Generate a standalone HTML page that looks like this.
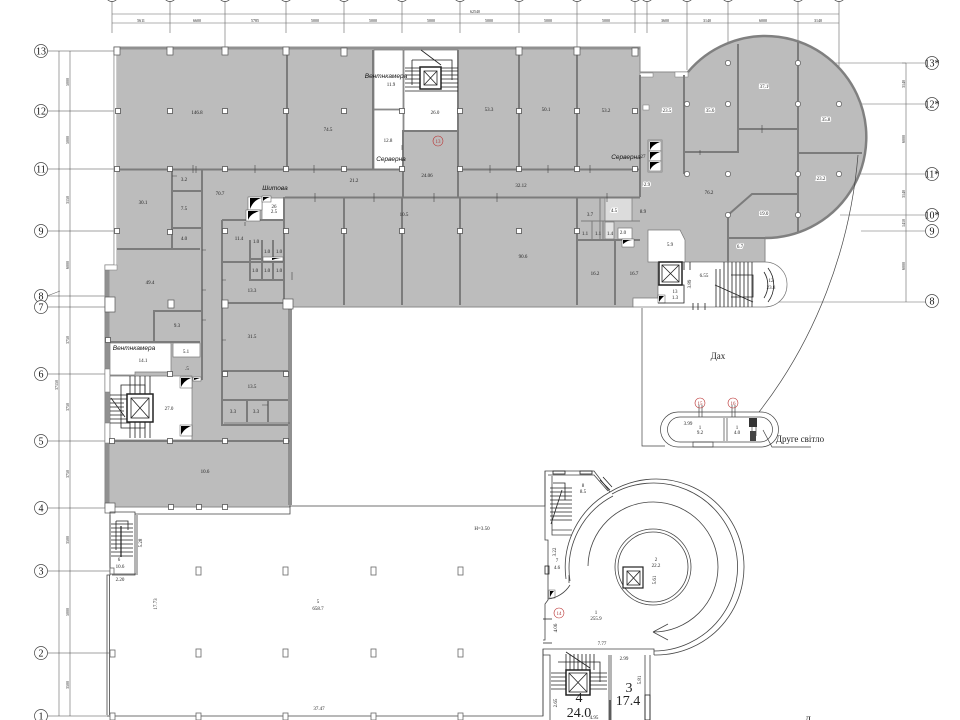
<!DOCTYPE html>
<html><head><meta charset="utf-8"><style>
html,body{margin:0;padding:0;background:#fff}
svg{display:block}
text{font-family:"Liberation Serif","DejaVu Serif",serif;fill:#222;font-size:5px;text-anchor:middle}
.s{font-family:"Liberation Sans","DejaVu Sans",sans-serif;font-style:italic;font-size:6.5px;fill:#111}
.g{font-size:10px;fill:#111}
.r{font-size:5px;fill:#a33}
.h{paint-order:stroke;stroke:#fff;stroke-width:2px}
</style></head><body>
<svg width="960" height="720" viewBox="0 0 960 720" xmlns="http://www.w3.org/2000/svg">
<rect width="960" height="720" fill="#fff"/>
<defs>
<rect id="c" x="-2.5" y="-2.5" width="5" height="5" fill="#fff" stroke="#555" stroke-width=".8"/>
<rect id="b" x="-3" y="-4" width="6" height="8" fill="#fff" stroke="#555" stroke-width=".7"/>
<circle id="o" r="2.6" fill="#fff" stroke="#555" stroke-width=".7"/>
</defs>

<!-- top grid -->
<g stroke="#666" stroke-width=".6" fill="none">
<path d="M112 14H839M112 23H839"/>
<path d="M112 0V33M170 0V33M225 0V47M286 0V33M344 0V33M402 0V33M460 0V33M519 0V33M577 0V47M635 0V33M647 0V33M687 0V70M728 0V63M798 0V63M839 0V104"/>
<path d="M59 51V716M70 51V716"/>
<path d="M47 51H114M47 111H118M47 169H114M47 231H114M47 296H107M47 307H107M47 374H110M47 441H110M47 508H107M47 571H110M47 653H110M47 716H110" stroke="#444"/>
<path d="M906 63V302" />
<path d="M800 63H926M840 104H926M840 174H926M840 215H926M861 231H926M640 302H926" />
<path d="M906 63h-4M47 296l13 -5" />
</g>
<g fill="#fff" stroke="#444" stroke-width=".7">
<circle cx="112" cy="-5" r="6.5"/><circle cx="170" cy="-5" r="6.5"/><circle cx="225" cy="-5" r="6.5"/><circle cx="286" cy="-5" r="6.5"/><circle cx="344" cy="-5" r="6.5"/><circle cx="402" cy="-5" r="6.5"/><circle cx="460" cy="-5" r="6.5"/><circle cx="519" cy="-5" r="6.5"/><circle cx="577" cy="-5" r="6.5"/><circle cx="635" cy="-5" r="6.5"/><circle cx="647" cy="-5" r="6.5"/><circle cx="687" cy="-5" r="6.5"/><circle cx="728" cy="-5" r="6.5"/><circle cx="798" cy="-5" r="6.5"/><circle cx="839" cy="-5" r="6.5"/>
<circle cx="41" cy="51" r="6.5"/><circle cx="41" cy="111" r="6.5"/><circle cx="41" cy="169" r="6.5"/><circle cx="41" cy="231" r="6.5"/><circle cx="41" cy="296" r="6.5"/><circle cx="41" cy="307" r="6.5"/><circle cx="41" cy="374" r="6.5"/><circle cx="41" cy="441" r="6.5"/><circle cx="41" cy="508" r="6.5"/><circle cx="41" cy="571" r="6.5"/><circle cx="41" cy="653" r="6.5"/><circle cx="41" cy="716" r="6.5"/>
<circle cx="932" cy="63" r="6.5"/><circle cx="932" cy="104" r="6.5"/><circle cx="932" cy="174" r="6.5"/><circle cx="932" cy="215" r="6.5"/><circle cx="932" cy="231" r="6.5"/><circle cx="932" cy="301" r="6.5"/>
</g>
<g class="g">
<text class="g" x="41" y="54.5">13</text><text class="g" x="41" y="114.5">12</text><text class="g" x="41" y="172.5">11</text><text class="g" x="41" y="234.5">9</text><text class="g" x="41" y="299.5">8</text><text class="g" x="41" y="310.5">7</text><text class="g" x="41" y="377.5">6</text><text class="g" x="41" y="444.5">5</text><text class="g" x="41" y="511.5">4</text><text class="g" x="41" y="574.5">3</text><text class="g" x="41" y="656.5">2</text><text class="g" x="41" y="719.5">1</text>
<text class="g" x="932" y="66.5">13*</text><text class="g" x="932" y="107.5">12*</text><text class="g" x="932" y="177.5">11*</text><text class="g" x="932" y="218.5">10*</text><text class="g" x="932" y="234.5">9</text><text class="g" x="932" y="304.5">8</text>
</g>
<g style="font-size:4px">
<text style="font-size:4px" x="141" y="22">5611</text><text style="font-size:4px" x="197" y="22">6600</text><text style="font-size:4px" x="255" y="22">5785</text><text style="font-size:4px" x="315" y="22">5000</text><text style="font-size:4px" x="373" y="22">5000</text><text style="font-size:4px" x="431" y="22">5000</text><text style="font-size:4px" x="489" y="22">5000</text><text style="font-size:4px" x="548" y="22">5000</text><text style="font-size:4px" x="606" y="22">5000</text><text style="font-size:4px" x="665" y="22">3600</text><text style="font-size:4px" x="707" y="22">3140</text><text style="font-size:4px" x="763" y="22">6000</text><text style="font-size:4px" x="818" y="22">3140</text><text style="font-size:4px" x="475" y="13">62540</text>
<text style="font-size:4px" transform="translate(69,82) rotate(-90)">5000</text><text style="font-size:4px" transform="translate(69,140) rotate(-90)">5000</text><text style="font-size:4px" transform="translate(69,200) rotate(-90)">3150</text><text style="font-size:4px" transform="translate(69,265) rotate(-90)">6000</text><text style="font-size:4px" transform="translate(69,340) rotate(-90)">3750</text><text style="font-size:4px" transform="translate(69,407) rotate(-90)">3750</text><text style="font-size:4px" transform="translate(69,474) rotate(-90)">3750</text><text style="font-size:4px" transform="translate(69,540) rotate(-90)">3500</text><text style="font-size:4px" transform="translate(69,612) rotate(-90)">5000</text><text style="font-size:4px" transform="translate(69,685) rotate(-90)">3500</text><text style="font-size:4px" transform="translate(58,385) rotate(-90)">37150</text>
<text style="font-size:4px" transform="translate(905,84) rotate(-90)">3140</text><text style="font-size:4px" transform="translate(905,139) rotate(-90)">6000</text><text style="font-size:4px" transform="translate(905,194) rotate(-90)">3140</text><text style="font-size:4px" transform="translate(905,223) rotate(-90)">1410</text><text style="font-size:4px" transform="translate(905,266) rotate(-90)">6000</text>
</g>

<!-- grey building -->
<path d="M114 47H640V72H688A101 101 0 1 1 765 238V262H726L690 262H658V300H633V307H290V507H105V265H114Z" fill="#bcbcbc" stroke="#8a8a8a" stroke-width="1"/>
<path d="M688 72A101 101 0 1 1 765 238" fill="none" stroke="#808080" stroke-width="2.5"/>
<path d="M114 48H640" stroke="#909090" stroke-width="3" fill="none"/>
<path d="M107.500 266V505M290 307V505" stroke="#909090" stroke-width="4" fill="none"/>
<path d="M115 50V266" stroke="#fff" stroke-width="2.500" fill="none"/>
<path d="M114 47V266" stroke="#777" stroke-width=".6" fill="none"/>
<g fill="#fff" stroke="#777" stroke-width=".5">
<rect x="105" y="265" width="12" height="5"/>
<rect x="105" y="369" width="5" height="23"/>
<rect x="105" y="423" width="5" height="20"/>
<rect x="640" y="73" width="13" height="4"/>
<rect x="675" y="72" width="13" height="5"/>
<rect x="643" y="105" width="6" height="5"/>
</g>

<!-- white rooms -->
<g fill="#fff" stroke="#777" stroke-width=".7">
<rect x="374" y="50" width="29" height="59"/>
<rect x="374" y="110" width="29" height="60"/>
<rect x="404" y="50" width="54" height="81"/>
<rect x="262" y="198" width="22" height="22"/>
<path d="M110 343H171V372H135V375H110Z"/>
<rect x="173" y="343" width="27" height="14"/>
<path d="M110 376H192V440H110Z"/>
<path d="M648 230H680L685 240V262H648Z"/>
<path d="M685 262H765A22 22 0 0 1 787 285A22 22 0 0 1 765 307H633V298H658V262Z"/>
<rect x="648" y="140" width="14" height="32"/>
<rect x="605" y="197" width="27" height="24" fill="#dcdcdc"/>
<rect x="605" y="222" width="9" height="17" fill="#e4e4e4"/>
<rect x="618" y="228" width="14" height="11"/>
</g>

<!-- walls grey -->
<g fill="none" stroke="#7c7c7c" stroke-width="2">
<path d="M287 50V169M373 50V170M403 130V197M458 50V197M519 50V169M577 50V169"/>
<path d="M117 169.5H403M458 169.5H640M285 197.5H640"/>
<path d="M172 170V248M202 170V380M172 191H202M172 228H202"/>
<path d="M222 220V425H288M222 220H284M284 197V300"/>
<path d="M222 262H284M223 303H288M222 371H288M222 400H288M247 401V422M268 401V422"/>
<path d="M117 249H200M154 342V311H201M110 342H200"/>
<path d="M110 441H290"/>
<path d="M344 197V305M402 197V305M460 197V305M577 197V305M615 240V305M577 240H640"/>
<path d="M640 75V197M684 75V174M684 152H738V44M738 129H798M798 42V232M798 153H862M798 194H752L728 215V262M727 238H765"/>
<path d="M404 131H458"/>
<path d="M250 240V280H284M250 259H284M262 240V280M273 240V280"/>
<path d="M600 197V240M581 221H640M592 221V240M603 221V240" stroke-width="1"/>
</g>
<g fill="none" stroke="#444" stroke-width=".6">
<path d="M193 165V173M255 165V173M315 193V202M374 193V202M434 193V202M490 165V173M497 193V202M548 165V173M590 165V173M607 193V202M196 166V173M314 165V173M402 145V150M172 176H177M202 250H206M202 290H206M202 320H206M222 280H226M222 340H226M292 272V280"/>
<path d="M245 222V226M262 405h6M224 423H290M762 125V133M700 150V155"/>
</g>

<!-- columns on grey -->
<g>
<use href="#b" x="117" y="51"/><use href="#b" x="170" y="51"/><use href="#b" x="225" y="51"/><use href="#b" x="286" y="51"/><use href="#b" x="344" y="52"/><use href="#b" x="519" y="51"/><use href="#b" x="577" y="51"/><use href="#b" x="635" y="52"/>
<use href="#c" x="118" y="111"/><use href="#c" x="170" y="111"/><use href="#c" x="225" y="111"/><use href="#c" x="286" y="111"/><use href="#c" x="344" y="111"/><use href="#c" x="402" y="111"/><use href="#c" x="460" y="111"/><use href="#c" x="519" y="111"/><use href="#c" x="577" y="111"/><use href="#c" x="635" y="111"/>
<use href="#c" x="117" y="169"/><use href="#c" x="170" y="169"/><use href="#c" x="225" y="169"/><use href="#c" x="286" y="169"/><use href="#c" x="344" y="169"/><use href="#c" x="402" y="169"/><use href="#c" x="460" y="169"/><use href="#c" x="519" y="169"/><use href="#c" x="577" y="169"/><use href="#c" x="635" y="169"/>
<use href="#c" x="117" y="231"/><use href="#c" x="170" y="232"/><use href="#c" x="225" y="231"/><use href="#c" x="286" y="231"/><use href="#c" x="344" y="231"/><use href="#c" x="402" y="231"/><use href="#c" x="460" y="231"/><use href="#c" x="519" y="231"/><use href="#c" x="577" y="231"/>
<use href="#b" x="225" y="304"/><use href="#b" x="171" y="304"/>
<rect x="283" y="299" width="10" height="10" fill="#fff" stroke="#555" stroke-width=".7"/>
<rect x="105" y="297" width="10" height="15" fill="#fff" stroke="#555" stroke-width=".7"/>
<use href="#c" x="225" y="374"/><use href="#c" x="286" y="374"/><use href="#c" x="170" y="374"/><use href="#c" x="108" y="340"/>
<use href="#c" x="225" y="441"/><use href="#c" x="286" y="441"/><use href="#c" x="170" y="441"/><use href="#c" x="112" y="441"/>
<use href="#c" x="171" y="507"/><use href="#c" x="199" y="507"/><use href="#c" x="225" y="507"/>
<rect x="105" y="503" width="10" height="10" fill="#fff" stroke="#555" stroke-width=".7"/>
<use href="#o" x="687" y="104"/><use href="#o" x="728" y="104"/><use href="#o" x="798" y="104"/><use href="#o" x="839" y="104"/><use href="#o" x="728" y="63"/><use href="#o" x="798" y="63"/><use href="#o" x="687" y="174"/><use href="#o" x="728" y="174"/><use href="#o" x="798" y="174"/><use href="#o" x="839" y="174"/><use href="#o" x="728" y="215"/><use href="#o" x="798" y="215"/>
</g>

<!-- shafts -->
<g fill="#fff" stroke="#555" stroke-width=".5">
<rect x="248" y="197" width="14" height="13"/><rect x="246" y="210" width="14" height="11"/><rect x="262" y="196" width="9" height="6"/>
<rect x="649" y="141" width="12" height="10"/><rect x="649" y="151" width="12" height="10"/><rect x="649" y="161" width="12" height="10"/>
<rect x="180" y="377" width="12" height="11"/><rect x="180" y="425" width="12" height="11"/><rect x="193" y="377" width="8" height="4"/><rect x="263" y="257" width="20" height="4"/><rect x="622" y="239" width="12" height="8"/><rect x="658" y="295" width="7" height="8"/><rect x="549" y="590" width="6" height="8"/>
</g>
<g fill="#000">
<path d="M250 209V198H261C255 200 252 204 250 209Z"/><path d="M248 220V211H259C254 213 250 215 248 220Z"/><path d="M263 201V197H270C267 198 265 199 263 201Z"/>
<path d="M650 150V142H660C655 144 652 146 650 150Z"/><path d="M650 160V152H660C655 154 652 156 650 160Z"/><path d="M650 170V162H660C655 164 652 166 650 170Z"/>
<path d="M181 387V378H191C186 380 183 383 181 387Z"/><path d="M181 435V426H191C186 428 183 431 181 435Z"/><path d="M194 380V378H200Z"/><path d="M272 260V258H283C278 258 275 259 272 260Z"/><path d="M623 244V240H633C628 240 626 242 623 244Z"/><path d="M659 302V296H664C662 298 660 300 659 302Z"/><path d="M550 597V591H554C552 593 551 595 550 597Z"/>
</g>

<!-- stair cores -->
<g fill="none" stroke="#222" stroke-width=".8">
<path d="M405 68H458M405 71H458M405 75H458M405 79H458M405 83H458M405 87H458M405 91H458"/>
<path d="M412 60H452V80M412 60V85M421 50L441 65"/>
<rect x="420" y="67" width="21" height="22" stroke-width="1.5" fill="#fff"/><rect x="424" y="71" width="13" height="14"/><path d="M424 71L437 85M437 71L424 85"/>
<path d="M110 395H130M110 399H130M110 403H124M110 407H124M110 411H124M110 415H124M110 419H130M110 423H130"/>
<path d="M130 376V395M135 376V395M140 376V395M145 376V395M150 376V395M130 422V438M135 422V438M140 422V438M145 422V438M150 422V438"/>
<path d="M111 398L125 417M121 385H145V428H121Z"/>
<rect x="127" y="394" width="26" height="28" stroke-width="1.5" fill="#fff"/><rect x="131" y="398" width="18" height="20"/><path d="M131 398L149 418M149 398L131 418"/>
<path d="M716 269V307M720 269V307M724 262V307M728 262V307M732 262V307M736 262V307M740 262V307M744 262V307M748 262V307M752 262V307"/>
<path d="M715 285L753 302M731 275H753V297H731"/>
<rect x="659" y="262" width="23" height="23" stroke-width="1.5" fill="#fff"/><rect x="662" y="265" width="17" height="17"/><path d="M662 265L679 282M679 265L662 282"/>
<path d="M658 285H684V303H658M764 272A24 24 0 0 1 764 298M768 268A28 28 0 0 1 768 302"/>
<path d="M693 303V310M698 303V310M705 303V310M684 262V270M690 262V270"/>
</g>

<!-- lower floor -->
<g fill="none" stroke="#444" stroke-width=".8">
<path d="M107 715V575H110V512H135V514H290V506H545V471H594L610 492"/>
<path d="M135 514V575H112"/>
<path d="M110 515V570M137 515V575M110 574H136"/>
<path d="M107 716H543V649H654V655"/>
<path d="M109.5 575V715"/>
<path d="M545 471V540H548V600L545 604V640H543M548 475H594L608 491M552 476V535H572M552 530H572"/>
<path d="M543 649V655H550V720M543 716V655M609 655V720M611 655V720M645 655V720M650 655V720"/>
<path d="M610 492A88 88 0 1 1 654 655M610 492A86 86 0 0 0 566 579" />
<path d="M612 494A84 84 0 1 1 654 651M613 496A82 82 0 0 0 570 581M570 585A30 30 0 0 1 548 599" />
<path d="M588 566A65 65 0 1 1 653 632M653 632L668 624M653 632L668 640"/>
<circle cx="653" cy="567" r="38"/><circle cx="653" cy="567" r="35"/>
<path d="M569 575V583"/>
</g>
<g fill="none" stroke="#222" stroke-width=".8">
<path d="M111 524H133M111 528H133M111 532H133M111 536H133M111 540H133M111 544H133M111 548H133M111 552H133M111 556H133M116 521V550M116 521H128V530"/>
<path d="M121 526V557" stroke-width="1.2"/>
<path d="M550 488H572M550 492H572M550 496H572M550 500H572M550 504H572M550 508H572M550 512H572M550 516H572M550 520H572M553 483H565V500M562 490L551 524"/>
<path d="M551 673H607M551 677H607M551 681H607M551 685H607M551 689H607M566 654V670M570 654V670M574 654V670M578 654V670M582 654V670M586 654V670M590 654V670M594 654V670"/>
<path d="M566 652L590 668M558 662H600V682"/>
<rect x="566" y="670" width="24" height="25" stroke-width="1.5" fill="#fff"/><rect x="569" y="673" width="18" height="19"/><path d="M569 673L587 692M587 673L569 692"/>
<rect x="623" y="567" width="20" height="21" stroke-width="1.2" fill="#fff"/><path d="M627 571L640 585M640 571L627 585"/><rect x="627" y="571" width="13" height="14"/>
<rect x="553" y="471" width="12" height="3"/><rect x="580" y="471" width="12" height="3"/>
<path d="M600 480L610 490M603 477L612 487"/>
<rect x="545" y="566" width="4" height="8"/>
<rect x="645" y="695" width="5" height="25"/>
<path d="M543 619H552M543 643H552M610 700V720"/>
</g>
<g stroke="#666" stroke-width=".8" fill="#fff">
<rect x="196" y="567" width="5" height="8"/><rect x="283" y="567" width="5" height="8"/><rect x="371" y="567" width="5" height="8"/><rect x="458" y="567" width="5" height="8"/>
<rect x="196" y="649" width="5" height="8"/><rect x="283" y="649" width="5" height="8"/><rect x="371" y="649" width="5" height="8"/><rect x="458" y="649" width="5" height="8"/>
<rect x="110" y="650" width="5" height="7"/><rect x="110" y="713" width="5" height="7"/><rect x="196" y="713" width="5" height="7"/><rect x="283" y="713" width="5" height="7"/><rect x="371" y="713" width="5" height="7"/><rect x="458" y="713" width="5" height="7"/>
<rect x="110" y="568" width="4" height="6"/>
</g>

<!-- roof lines -->
<g fill="none" stroke="#444" stroke-width=".7">
<path d="M642 308V446H665"/>
<path d="M858 155C850 250 815 340 759 412"/>
<path d="M678 412H761A17 17 0 0 1 761 447H678A17 17 0 0 1 678 412Z" fill="#fff"/>
<path d="M680 417H760A12.500 12.500 0 0 1 760 442H680A12.500 12.500 0 0 1 680 417Z"/>
<path d="M724 418V441M727 418V441" />
<path d="M752 421V435M756 421V436M699 405V417M702 405V417M732 405V417M735 405V417M693 442H713V447H693Z"/>
<path d="M763 430L772 447H811"/>
</g>
<rect x="749" y="418" width="8" height="9" fill="#333"/>
<rect x="750" y="431" width="6" height="10" fill="#444"/>

<!-- labels -->
<text x="197" y="114">146.8</text><text x="328" y="131">74.5</text><text x="391" y="86">11.9</text><text x="388" y="142">12.8</text><text x="435" y="114">26.0</text><text x="489" y="111">53.3</text><text x="546" y="111">50.1</text><text x="606" y="112">53.2</text>
<text x="354" y="182">21.2</text><text x="427" y="177">24.06</text><text x="521" y="187">32.12</text><text x="404" y="216">10.5</text><text x="523" y="258">90.6</text>
<text x="143" y="204">30.1</text><text x="184" y="181">3.2</text><text x="184" y="210">7.5</text><text x="184" y="240">4.0</text><text x="220" y="195">70.7</text><text x="239" y="240">11.4</text>
<text x="274" y="208">26</text><text x="274" y="213">2.5</text>
<text x="150" y="284">49.4</text><text x="177" y="327">9.3</text><text x="143" y="362">14.1</text><text x="186" y="353">5.1</text><text x="187" y="370">.5</text><text x="169" y="410">27.0</text>
<text x="252" y="292">13.3</text><text x="252" y="338">31.5</text><text x="252" y="388">13.5</text><text x="233" y="413">3.3</text><text x="256" y="413">3.3</text><text x="205" y="473">10.6</text>
<text x="256" y="243">1.0</text><text x="267" y="253">1.0</text><text x="279" y="253">1.0</text><text x="255" y="272">1.0</text><text x="267" y="272">1.0</text><text x="279" y="272">1.0</text>
<text x="590" y="216">3.7</text><text x="614" y="212" class="h">4.5</text><text x="585" y="235">1.1</text><text x="598" y="235">1.1</text><text x="610" y="235">1.4</text><text x="623" y="234">2.0</text><text x="595" y="275">16.2</text><text x="634" y="275">16.7</text>
<text x="667" y="112" class="h">23.5</text><text x="710" y="112" class="h">35.6</text><text x="764" y="88" class="h">37.1</text><text x="826" y="121" class="h">35.8</text><text x="821" y="180" class="h">23.2</text><text x="709" y="194">76.2</text><text x="764" y="215" class="h">19.0</text><text x="740" y="248" class="h">6.7</text><text x="643" y="158">27</text><text x="647" y="186" class="h">2.9</text><text x="643" y="213">8.9</text><text x="670" y="246">5.9</text><text x="704" y="277">6.55</text>
<text x="771" y="282">12</text><text x="771" y="289">23.8</text>
<text transform="translate(691,284) rotate(-90)">3.89</text><text x="675" y="293">13</text><text x="675" y="299">1.3</text>
<text x="688" y="425">3.99</text><text x="700" y="429">1</text><text x="700" y="434">9.2</text><text x="737" y="429">1</text><text x="737" y="434">4.0</text>
<text x="583" y="487">8</text><text x="583" y="493">8.5</text><text x="656" y="561">2</text><text x="656" y="567">22.2</text><text x="557" y="562">7</text><text x="557" y="569">4.6</text><text x="596" y="614">1</text><text x="596" y="620">255.9</text><text x="602" y="645">7.77</text><text x="624" y="660">2.99</text>
<text x="482" y="530">H=3.50</text><text x="318" y="603">5</text><text x="318" y="610">658.7</text><text x="319" y="710">37.47</text>
<text transform="translate(157,604) rotate(-90)">17.73</text><text transform="translate(142,543) rotate(-90)">5.28</text><text x="120" y="581">2.20</text><text x="119" y="561">6</text><text x="120" y="568">10.6</text>
<text transform="translate(556,552) rotate(-90)">3.22</text><text transform="translate(557,628) rotate(-90)">4.06</text><text transform="translate(656,580) rotate(-90)">5.61</text><text transform="translate(641,680) rotate(-90)">5.81</text><text transform="translate(557,703) rotate(-90)">2.65</text><text x="594" y="719">4.95</text>
<text style="font-size:14px" x="579" y="702">4</text><text style="font-size:14px" x="579" y="717">24.0</text><text style="font-size:14px" x="629" y="692">3</text><text style="font-size:14px" x="628" y="705">17.4</text>
<text style="font-size:9px" x="718" y="359">Дах</text><text style="font-size:9px" x="800" y="442">Друге світло</text><text style="font-size:9px" x="808" y="723">Д</text>
<text class="s" x="386" y="78">Вентнкамера</text><text class="s" x="391" y="161">Серверна</text><text class="s" x="626" y="159">Серверна</text><text class="s" x="275" y="190">Шитова</text><text class="s" x="134" y="350">Вентнкамера</text>
<g fill="none" stroke="#b33" stroke-width=".6"><circle cx="438" cy="141" r="5"/><circle cx="700" cy="403" r="5"/><circle cx="733" cy="403" r="5"/><circle cx="559" cy="613" r="5"/></g>
<text class="r" x="438" y="143">13</text><text class="r" x="700" y="405">15</text><text class="r" x="733" y="405">16</text><text class="r" x="559" y="615">14</text>
</svg>
</body></html>
